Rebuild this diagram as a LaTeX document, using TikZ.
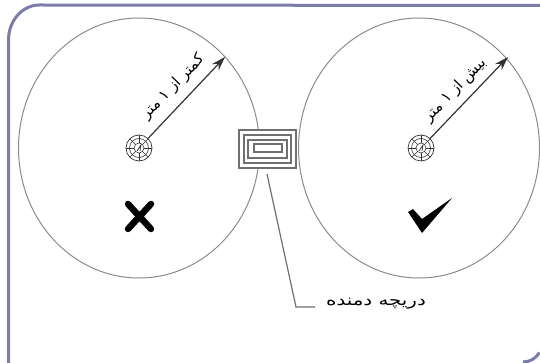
\documentclass[tikz,border=0pt]{standalone}
\usepackage{fontspec}
\usetikzlibrary{arrows.meta,shapes.geometric}
\TeXXeTstate=1
\newfontfamily\arabicfont[Script=Arabic]{DejaVu Sans}
\definecolor{framecol}{HTML}{7C7CA8}
\definecolor{ringcol}{HTML}{8C8C8C}
\definecolor{inkcol}{HTML}{333333}
\tikzset{
  zone/.style={draw=ringcol,line width=1pt,ellipse,inner sep=0pt,minimum width=241pt,minimum height=260pt},
  hubring/.style={draw=inkcol,line width=.7pt,circle,inner sep=0pt,minimum size=26pt},
  ventbox/.style={draw=ringcol!80!black,line width=1.1pt,rectangle,inner sep=0pt},
  radius line/.style={draw=inkcol,line width=1.2pt,-{Stealth[length=14pt,width=9pt]}},
  lead/.style={draw=ringcol!80!black,line width=1.2pt},
  arlabel/.style={inner sep=0pt,text=black,font=\arabicfont\fontsize{15}{17}\selectfont},
}
\newcommand{\hubdetail}[2]{%
  \draw[inkcol,line width=.6pt] (#1,#2) circle (9.5pt) (#1,#2) circle (5pt);
  \foreach \a in {0,45,...,315}{\draw[inkcol,line width=.6pt] (#1,#2)++(\a:5pt) -- ++(\a:8pt);}
  \draw[inkcol,line width=.7pt] (#1-2,#2+3) -- (#1+2,#2-3) -- (#1+1,#2+3);
}
\begin{document}
\begin{tikzpicture}[x=1pt,y=-1pt]
\useasboundingbox (0,0) rectangle (540,363);
\fill[white] (0,0) rectangle (540,363);
% frame
\draw[framecol,line width=3pt] (8.5,363) -- (8.5,40) arc[start angle=180,end angle=90,x radius=31pt,y radius=35pt] -- (540,5.5);
\draw[framecol,line width=3pt] (523,362) arc[start angle=270,end angle=330,radius=19pt];
% zones
\node[zone] (zoneL) at (139,148) {};
\node[zone] (zoneR) at (419,148) {};
% hubs
\node[hubring] (hubL) at (139,148) {};
\node[hubring] (hubR) at (421,148) {};
\hubdetail{139}{148}
\hubdetail{421}{148}
% radii
\coordinate (tipL) at (225,57);
\coordinate (tipR) at (508,57);
\draw[radius line] (hubL) -- (tipL);
\draw[radius line] (hubR) -- (tipR);
\node[arlabel,rotate=46] (textL) at (173,87) {\beginR کمتر از ۱ متر\endR};
\node[arlabel,rotate=46] (textR) at (455,90) {\beginR بیش از ۱ متر\endR};
% vent
\node[ventbox,fill=white,minimum width=57pt,minimum height=38pt] (ventA) at (267.5,149) {};
\node[ventbox,minimum width=47pt,minimum height=28pt] (ventB) at (267.5,149) {};
\node[ventbox,minimum width=39pt,minimum height=18pt] (ventC) at (267.5,149) {};
\node[ventbox,minimum width=28pt,minimum height=8pt] (ventD) at (268,148) {};
% leader
\coordinate (leadA) at (267,174);
\coordinate (leadB) at (296,307);
\coordinate (leadC) at (315,307);
\draw[lead] (leadA) -- (leadB) -- (leadC);
\node[arlabel,xscale=1.32] (ventText) at (376,304) {\beginR دریچه دمنده\endR};
% marks
\draw[black,line width=6.5pt,line cap=round] (128,204) -- (151,229) (151,204) -- (128,229);
\fill[black] (408,212) -- (413,209) -- (422,219) -- (452,198) -- (422,233) -- cycle;
\end{tikzpicture}
\end{document}
